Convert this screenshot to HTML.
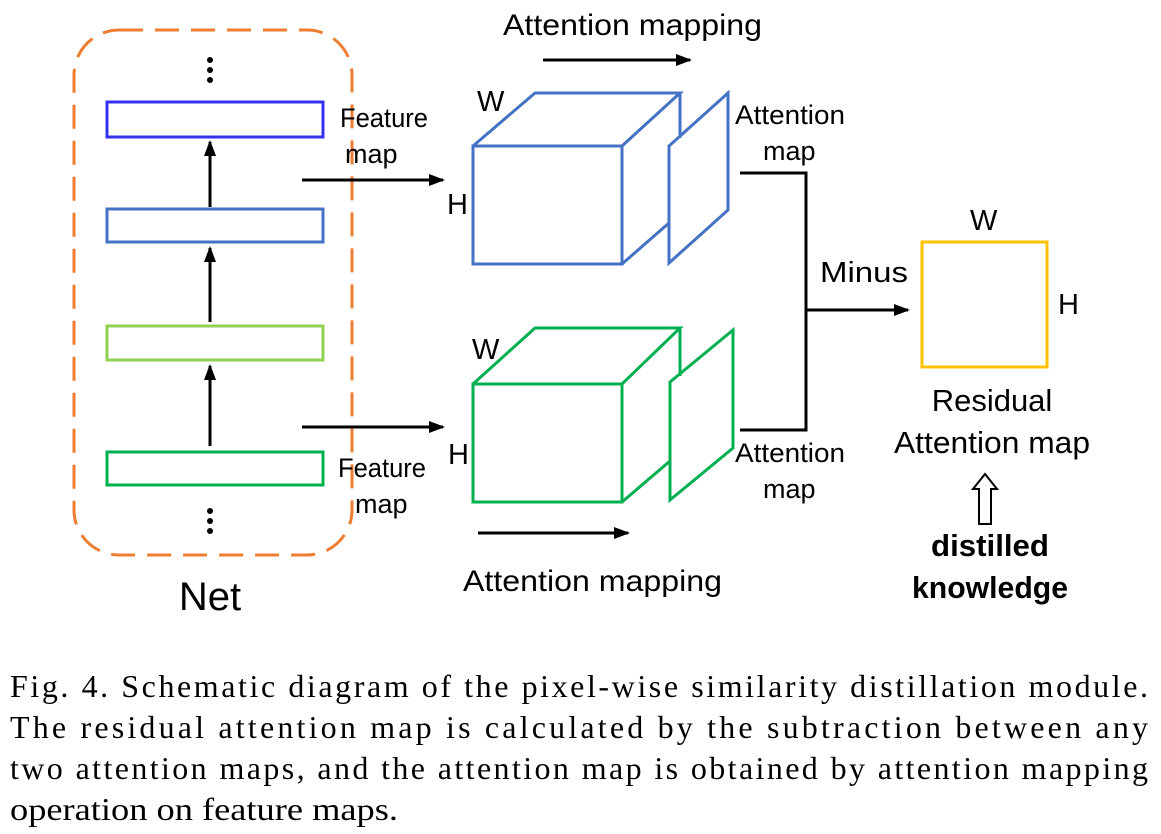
<!DOCTYPE html>
<html><head><style>
body{margin:0;background:#fff;}
svg{display:block;}
.s{font-family:"Liberation Sans",sans-serif;}
.cap{font-family:"Liberation Serif",serif;font-size:32px;}
</style></head><body>
<svg width="1161" height="834" viewBox="0 0 1161 834" xmlns="http://www.w3.org/2000/svg">
<defs>
<marker id="a" markerWidth="16" markerHeight="12" refX="14" refY="6" orient="auto" markerUnits="userSpaceOnUse"><path d="M0,0 L16,6 L0,12 z" fill="#000"/></marker>
</defs>
<rect x="74" y="30" width="278" height="525" rx="45" fill="none" stroke="#ED7D31" stroke-width="3" stroke-dasharray="24,12"/>
<g fill="#000"><circle cx="210" cy="60" r="3"/><circle cx="210" cy="70" r="3"/><circle cx="210" cy="80" r="3"/>
<circle cx="210" cy="511" r="3"/><circle cx="210" cy="521" r="3"/><circle cx="210" cy="531" r="3"/></g>
<rect x="107" y="102" width="216" height="35" fill="none" stroke="#3333ee" stroke-width="3"/>
<rect x="107" y="209" width="216" height="33" fill="none" stroke="#4472C4" stroke-width="3"/>
<rect x="107" y="326" width="216" height="34" fill="none" stroke="#92D050" stroke-width="3"/>
<rect x="107" y="452" width="216" height="33" fill="none" stroke="#00B050" stroke-width="3"/>
<g stroke="#000" stroke-width="3" marker-end="url(#a)">
<line x1="210" y1="207" x2="210" y2="142"/>
<line x1="210" y1="322" x2="210" y2="248"/>
<line x1="210" y1="446" x2="210" y2="366"/>
<line x1="302" y1="180" x2="443" y2="180"/>
<line x1="302" y1="427" x2="443" y2="427"/>
<line x1="543" y1="60" x2="690" y2="60"/>
<line x1="478" y1="533" x2="628" y2="533"/>
<line x1="806" y1="310" x2="908" y2="310"/>
</g>
<text x="210" y="610" class="s" font-size="40" text-anchor="middle">Net</text>
<g class="s" font-size="27">
<text x="340" y="127" textLength="88" lengthAdjust="spacingAndGlyphs">Feature</text><text x="345" y="163">map</text>
<text x="338" y="477" textLength="88" lengthAdjust="spacingAndGlyphs">Feature</text><text x="355" y="513">map</text>
<text x="503" y="35" font-size="30" textLength="259" lengthAdjust="spacingAndGlyphs">Attention mapping</text>
<text x="463" y="591" font-size="30" textLength="259" lengthAdjust="spacingAndGlyphs">Attention mapping</text>
<text x="735" y="124" textLength="110" lengthAdjust="spacingAndGlyphs">Attention</text><text x="763" y="160">map</text>
<text x="735" y="462" textLength="110" lengthAdjust="spacingAndGlyphs">Attention</text><text x="763" y="498">map</text>
<text x="820" y="282" font-size="29" textLength="88" lengthAdjust="spacingAndGlyphs">Minus</text>
<text x="477" y="111" font-size="29">W</text><text x="447" y="214" font-size="29">H</text>
<text x="472" y="359" font-size="29">W</text><text x="448" y="464" font-size="29">H</text>
<text x="970" y="230" font-size="29">W</text><text x="1058" y="314" font-size="29">H</text>
<text x="992" y="411" text-anchor="middle" font-size="31">Residual</text>
<text x="992" y="453" text-anchor="middle" font-size="31" textLength="196" lengthAdjust="spacingAndGlyphs">Attention map</text>
<text x="990" y="556" text-anchor="middle" font-size="31" font-weight="bold" textLength="118" lengthAdjust="spacingAndGlyphs">distilled</text>
<text x="990" y="598" text-anchor="middle" font-size="31" font-weight="bold" textLength="156" lengthAdjust="spacingAndGlyphs">knowledge</text>
</g>
<g fill="none" stroke="#4472C4" stroke-width="3" stroke-linejoin="miter">
<rect x="473" y="146" width="149" height="118"/>
<path d="M473,146 L535,93 L680,93 L622,146 M680,93 L680,138 M622,264 L669,223"/>
<path d="M669,146 L728,93 L728,210 L669,263 Z"/>
</g>
<g fill="none" stroke="#00B050" stroke-width="3">
<rect x="473" y="384" width="149" height="118"/>
<path d="M473,384 L535,328 L680,328 L622,384 M680,328 L680,376 M622,502 L670,461"/>
<path d="M670,382 L733,330 L733,448 L670,500 Z"/>
</g>
<path d="M740,173 L806,173 L806,430 L740,430" fill="none" stroke="#000" stroke-width="3"/>
<rect x="922" y="242" width="125" height="125" fill="none" stroke="#FFC000" stroke-width="3"/>
<path d="M985,474 L997,489 L991,489 L991,524 L979,524 L979,489 L973,489 Z" fill="none" stroke="#000" stroke-width="2"/>
<g class="cap">
<text x="10" y="697" textLength="1138" lengthAdjust="spacing">Fig. 4.   Schematic diagram of the pixel-wise similarity distillation module.</text>
<text x="10" y="738" textLength="1138" lengthAdjust="spacing">The residual attention map is calculated by the subtraction between any</text>
<text x="10" y="779" textLength="1138" lengthAdjust="spacing">two attention maps, and the attention map is obtained by attention mapping</text>
<text x="10" y="820" textLength="388" lengthAdjust="spacingAndGlyphs">operation on feature maps.</text>
</g>
</svg>
</body></html>
